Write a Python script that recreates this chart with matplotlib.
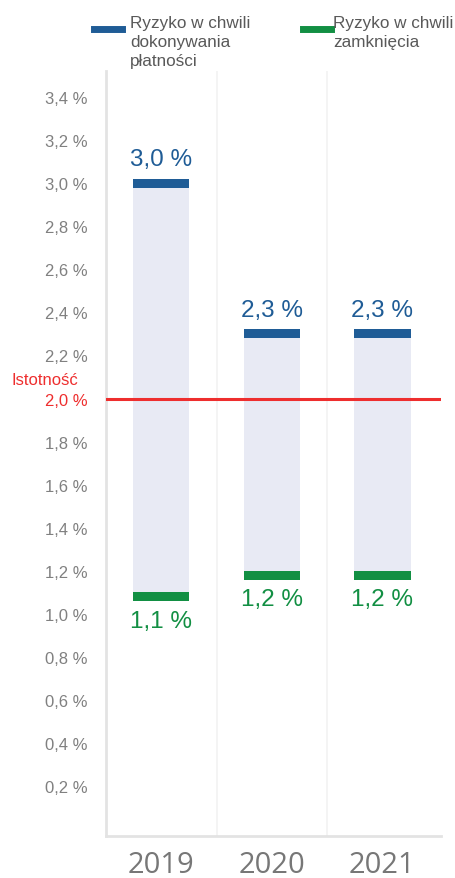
import numpy as np
import matplotlib.pyplot as plt
from matplotlib.lines import Line2D

# dane
lata = ['2019', '2020', '2021']
ryzyko_platnosci = [3.0, 2.3, 2.3]      # Ryzyko w chwili dokonywania płatności
ryzyko_zamkniecia = [1.1, 1.2, 1.2]     # Ryzyko w chwili zamknięcia
etykiety_gora = ['3,0 %', '2,3 %', '2,3 %']
etykiety_dol = ['1,1 %', '1,2 %', '1,2 %']
istotnosc = 2.0
ticki_y = [0.2, 0.4, 0.6, 0.8, 1.0, 1.2, 1.4, 1.6, 1.8, 2.0, 2.2, 2.4, 2.6, 2.8, 3.0, 3.2, 3.4]

NIEBIESKI = '#1f5c96'
ZIELONY = '#128f43'
BLADY = '#e8eaf4'
CZERWONY = '#ee2e2e'
SZARY = '#808080'

plt.rcParams['font.family'] = ['Liberation Sans', 'DejaVu Sans']

fig = plt.figure(figsize=(4.56, 8.79), dpi=100)
ax = fig.add_axes([0.2325, 0.0478, 0.7345, 0.870])

x = np.arange(len(lata))
szer = 0.51
grub = 0.042

gora = np.array(ryzyko_platnosci)
dol = np.array(ryzyko_zamkniecia)

# blady pas między znacznikami
ax.bar(x, (gora - grub / 2) - dol, bottom=dol, width=szer, color=BLADY, zorder=2)
# znacznik górny (niebieski)
ax.bar(x, grub, bottom=gora - grub / 2, width=szer, color=NIEBIESKI, zorder=3)
# znacznik dolny (zielony)
ax.bar(x, grub, bottom=dol - grub, width=szer, color=ZIELONY, zorder=3)

for xi, g, d, eg, ed in zip(x, gora, dol, etykiety_gora, etykiety_dol):
    ax.annotate(eg, (xi, g + grub / 2), xytext=(0, 6), textcoords='offset points',
                ha='center', va='bottom', fontsize=17.5, color=NIEBIESKI)
    ax.annotate(ed, (xi, d - grub), xytext=(0, -6), textcoords='offset points',
                ha='center', va='top', fontsize=17.5, color=ZIELONY)

# linia istotności
ax.axhline(istotnosc, color=CZERWONY, lw=2.2, zorder=4)

ax.set_xlim(-0.5, 2.53)
ax.set_ylim(-0.032, 3.52)
ax.set_yticks(ticki_y)
ax.set_yticklabels([f'{t:.1f} %'.replace('.', ',') for t in ticki_y])
ax.tick_params(axis='y', length=0, pad=13, labelsize=12, labelcolor=SZARY)
for lab, t in zip(ax.get_yticklabels(), ticki_y):
    if abs(t - istotnosc) < 1e-9:
        lab.set_color(CZERWONY)
ax.text(-0.084, 0.597, 'Istotność', transform=ax.transAxes, ha='right', va='center',
        fontsize=12, color=CZERWONY)

ax.set_xticks(x)
ax.set_xticklabels(lata, fontsize=21, color='#777777', family='Open Sans')
ax.tick_params(axis='x', length=0, pad=10)

# siatka pionowa między kategoriami
for g in [0.5, 1.5]:
    ax.axvline(g, color='#f2f2f2', lw=1.2, zorder=1)

for s in ['top', 'right']:
    ax.spines[s].set_visible(False)
for s in ['left', 'bottom']:
    ax.spines[s].set_color('#e3e3e3')
    ax.spines[s].set_linewidth(2)

# legenda
fig.add_artist(Line2D([94 / 456, 122 / 456], [1 - 30 / 879] * 2, color=NIEBIESKI, lw=5,
                      transform=fig.transFigure))
fig.text(130 / 456, 1 - 16 / 879, 'Ryzyko w chwili\ndokonywania\npłatności', ha='left', va='top',
         fontsize=12.3, color='#595959', linespacing=1.35)
fig.add_artist(Line2D([303 / 456, 331 / 456], [1 - 30 / 879] * 2, color=ZIELONY, lw=5,
                      transform=fig.transFigure))
fig.text(333 / 456, 1 - 16 / 879, 'Ryzyko w chwili\nzamknięcia', ha='left', va='top',
         fontsize=12.3, color='#595959', linespacing=1.35)

fig.savefig('out.png', dpi=100)
